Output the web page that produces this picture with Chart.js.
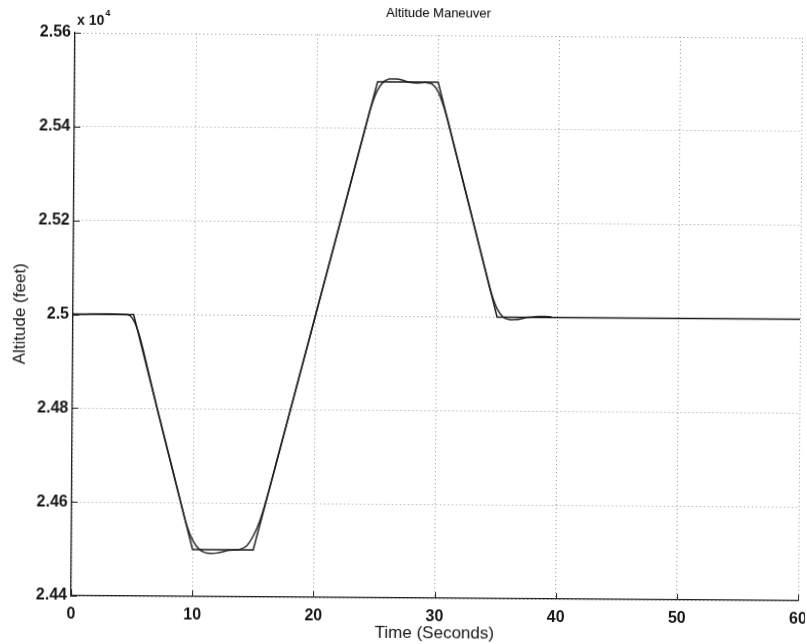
<!DOCTYPE html>
<html>
<head>
<meta charset="utf-8">
<title>Altitude Maneuver</title>
<script src="https://cdn.jsdelivr.net/npm/chart.js@4.4.1/dist/chart.umd.min.js"></script>
<style>
  html, body { margin: 0; padding: 0; background: #fff; overflow: hidden; }
  /* the printed page sits slightly askew */
  #wrap { width: 807px; height: 644px; transform: rotate(0.4deg); }
</style>
</head>
<body>
<div id="wrap"><canvas id="altChart" width="807" height="644"></canvas></div>
<script>
// commanded altitude profile (s, ft)
const cmdTime = [0, 5, 10, 15, 25, 30, 35, 60];
const cmdAlt = [25000, 25000, 24500, 24500, 25500, 25500, 25000, 25000];

// aircraft response (s, ft)
const respTime = [0, 4.5, 5, 5.5, 6, 7, 8, 9, 9.5, 10, 10.5, 11, 11.5, 12, 12.5, 13, 13.5, 14, 14.5, 15,
  15.5, 16, 17, 18, 19, 20, 21, 22, 23, 24, 24.5, 25, 25.5, 26, 26.5, 27, 27.5, 28, 28.5, 29, 29.5, 30,
  30.5, 31, 32, 33, 34, 34.5, 35, 35.5, 36, 36.5, 37, 37.5, 38, 38.5, 39, 39.5];
const respAlt = [25000, 25000, 24988, 24955, 24905, 24800, 24700, 24600, 24552, 24520, 24502, 24494, 24492,
  24493, 24496, 24499, 24500, 24502, 24510, 24530, 24560, 24602, 24700, 24800, 24900, 25000, 25100, 25200,
  25300, 25400, 25448, 25482, 25500, 25506, 25506, 25504, 25500, 25498, 25498, 25499, 25496, 25480, 25446,
  25400, 25300, 25200, 25100, 25052, 25018, 25000, 24995, 24995, 24997, 25000, 25001, 25002, 25002, 25001];

// axis ticks
const timeTicks = [0, 10, 20, 30, 40, 50, 60];
const altTicks = [24400, 24600, 24800, 25000, 25200, 25400, 25600];

const FONT = "'Liberation Sans', Arial, sans-serif";
const INK = "#151515";

const toPoints = (xs, ys) => xs.map((x, i) => ({ x: x, y: ys[i] }));

// MATLAB-like inward tick marks plus the "x 10^4" exponent label
const axisDecor = {
  id: "axisDecor",
  afterDraw(chart) {
    const { ctx, chartArea, scales } = chart;
    ctx.save();
    ctx.strokeStyle = "#222";
    ctx.lineWidth = 1;
    ctx.beginPath();
    timeTicks.forEach((t) => {
      const px = Math.round(scales.x.getPixelForValue(t)) + 0.5;
      ctx.moveTo(px, chartArea.bottom);
      ctx.lineTo(px, chartArea.bottom - 6);
    });
    altTicks.forEach((a) => {
      const py = Math.round(scales.y.getPixelForValue(a)) + 0.5;
      ctx.moveTo(chartArea.left, py);
      ctx.lineTo(chartArea.left + 6, py);
    });
    ctx.stroke();

    ctx.fillStyle = INK;
    ctx.textBaseline = "alphabetic";
    ctx.textAlign = "left";
    ctx.font = "bold 14px " + FONT;
    const base = "x 10";
    ctx.fillText(base, chartArea.left + 2, 27);
    const w = ctx.measureText(base).width;
    ctx.font = "bold 9px " + FONT;
    ctx.fillText("4", chartArea.left + 3 + w, 18);
    ctx.restore();
  },
};

const ctx = document.getElementById("altChart").getContext("2d");

new Chart(ctx, {
  type: "line",
  data: {
    datasets: [
      {
        label: "Commanded",
        data: toPoints(cmdTime, cmdAlt),
        borderColor: "#1a1a1a",
        borderWidth: 1.5,
        pointRadius: 0,
        tension: 0,
      },
      {
        label: "Response",
        data: toPoints(respTime, respAlt),
        borderColor: "#2a2a2a",
        borderWidth: 1.5,
        pointRadius: 0,
        tension: 0.3,
      },
    ],
  },
  options: {
    responsive: false,
    animation: false,
    events: [],
    layout: { padding: { top: 0, right: 7, bottom: 0, left: 0 } },
    plugins: {
      legend: { display: false },
      tooltip: { enabled: false },
      title: {
        display: true,
        text: "Altitude Maneuver",
        color: "#000",
        fullSize: false,
        font: { family: FONT, size: 13, weight: "normal" },
        padding: { top: 6, bottom: 13.4 },
      },
    },
    scales: {
      x: {
        type: "linear",
        min: 0,
        max: 60,
        afterBuildTicks: (scale) => {
          scale.ticks = timeTicks.map((v) => ({ value: v }));
        },
        ticks: { color: INK, font: { family: FONT, size: 16, weight: "bold" }, padding: 9, maxRotation: 0 },
        grid: { drawTicks: false, color: "#939393", lineWidth: 1 },
        border: { display: true, color: "#222", width: 1.3, dash: [1, 3] },
        title: {
          display: true,
          text: "Time (Seconds)",
          color: INK,
          font: { family: FONT, size: 17 },
          padding: { top: 0, bottom: 0.8 },
        },
        afterFit: (scale) => {
          scale.height = 46;
          scale.paddingLeft = 0;
          scale.paddingRight = 0;
        },
      },
      y: {
        type: "linear",
        min: 24400,
        max: 25600,
        afterBuildTicks: (scale) => {
          scale.ticks = altTicks.map((v) => ({ value: v }));
        },
        ticks: {
          color: INK,
          font: { family: FONT, size: 16, weight: "bold" },
          padding: 4,
          callback: (v) => String(+(v / 10000).toFixed(2)),
        },
        grid: { drawTicks: false, color: "#939393", lineWidth: 1 },
        border: { display: true, color: "#222", width: 1.3, dash: [1, 3] },
        title: {
          display: true,
          text: "Altitude (feet)",
          color: INK,
          font: { family: FONT, size: 17 },
          padding: { top: 9.8, bottom: 0 },
        },
        afterFit: (scale) => {
          scale.width = 73;
          scale.paddingTop = 0;
          scale.paddingBottom = 0;
        },
      },
    },
  },
  plugins: [axisDecor],
});
</script>
</body>
</html>
